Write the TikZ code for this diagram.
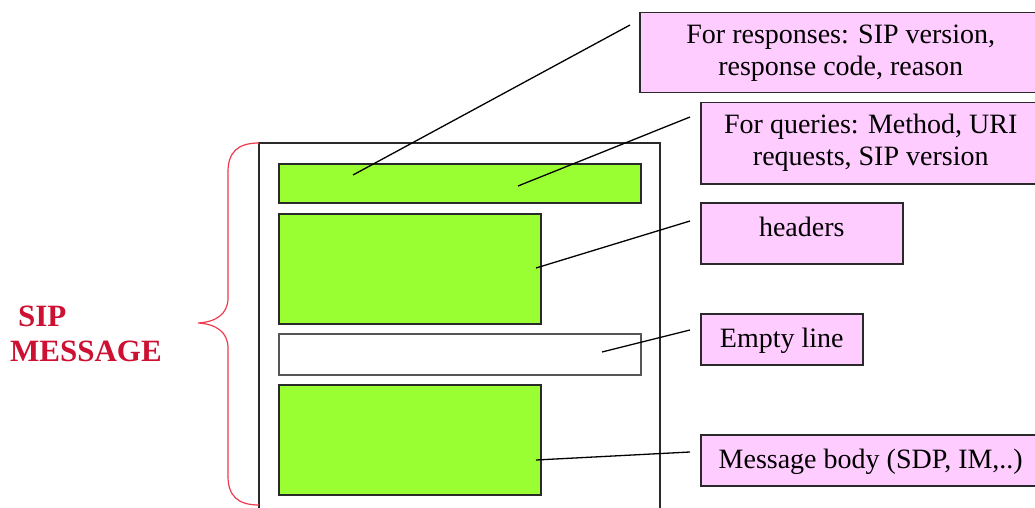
\documentclass[tikz,border=0pt]{standalone}
\usepackage{fontspec}
\setmainfont{Liberation Serif}
\definecolor{barGreen}{HTML}{99FF33}
\definecolor{notePink}{HTML}{FFCCFF}
\definecolor{braceRed}{HTML}{EE3A4C}
\definecolor{titleRed}{HTML}{CC1133}
\definecolor{edgeDark}{HTML}{2A2A2A}
\begin{document}
\begin{tikzpicture}[x=1pt,y=-1pt,
  part/.style={draw=edgeDark,line width=1.5pt,fill=barGreen,inner sep=0pt,anchor=north west},
  blank/.style={draw=edgeDark!80,line width=1.5pt,fill=white,inner sep=0pt,anchor=north west},
  note/.style={draw=edgeDark,line width=1.5pt,fill=notePink,inner sep=0pt,anchor=north west,
    align=center,font=\fontsize{28}{32}\selectfont},
  lead/.style={draw=black,line width=1.3pt}]
\useasboundingbox (0,0) rectangle (1035,508);
\clip (0,0) rectangle (1035,508);

% message frame (runs past the lower edge)
\draw[edgeDark,line width=1.8pt] (259,515) -- (259,143) -- (660,143) -- (660,515);

% message parts
\node[part,minimum width=362pt,minimum height=39pt] (start) at (278,163) {};
\node[part,minimum width=262pt,minimum height=110pt] (hdr) at (278,213) {};
\node[blank,minimum width=362pt,minimum height=41pt] (empty) at (278,333) {};
\node[part,minimum width=262pt,minimum height=110pt] (body) at (278,384) {};

% notes
\node[note,minimum width=402pt,minimum height=80pt] (resp) at (639,12)
  {For responses: SIP version,\\response code, reason};
\node[note,minimum width=340pt,minimum height=81pt] (query) at (700,102)
  {For queries: Method, URI\\requests, SIP version};
\node[note,minimum width=202pt,minimum height=61pt,text height=22pt,text depth=16pt] (hnote) at (700,202) {headers};
\node[note,minimum width=162pt,minimum height=51pt,text height=26pt,text depth=9pt] (enote) at (700,313) {Empty line};
\node[note,minimum width=340pt,minimum height=51pt,text height=26pt,text depth=9pt] (bnote) at (700,434) {Message body (SDP, IM,..)};

% leader end points
\coordinate (p1) at (353,175);
\coordinate (p2) at (518,186);
\coordinate (p3) at (536,268);
\coordinate (p4) at (602,352);
\coordinate (p5) at (536,460);
\coordinate (q1) at ([xshift=-9pt,yshift=-13pt]resp.north west);
\coordinate (q2) at ([xshift=-10pt,yshift=-15pt]query.north west);
\coordinate (q3) at ([xshift=-10pt,yshift=-19pt]hnote.north west);
\coordinate (q4) at ([xshift=-10pt,yshift=-17pt]enote.north west);
\coordinate (q5) at ([xshift=-10pt,yshift=-18pt]bnote.north west);

\draw[lead] (p1) -- (q1);
\draw[lead] (p2) -- (q2);
\draw[lead] (p3) -- (q3);
\draw[lead] (p4) -- (q4);
\draw[lead] (p5) -- (q5);

% brace spanning the message
\coordinate (bt) at (259,143);
\coordinate (bb) at (259,505);
\coordinate (tip) at (198,323);
\draw[braceRed,line width=1.2pt]
  (bt) .. controls (238,143) and (228,152) .. (228,172) -- (228,298)
  .. controls (228,314) and (216,322) .. (tip)
  .. controls (216,324) and (228,332) .. (228,348) -- (228,476)
  .. controls (228,496) and (238,505) .. (bb);

\node[titleRed,font=\fontsize{31}{35}\selectfont\bfseries,align=left,anchor=north west,inner sep=0pt]
  (title) at (10,306) {\hspace*{8pt}SIP\\MESSAGE};
\end{tikzpicture}
\end{document}
